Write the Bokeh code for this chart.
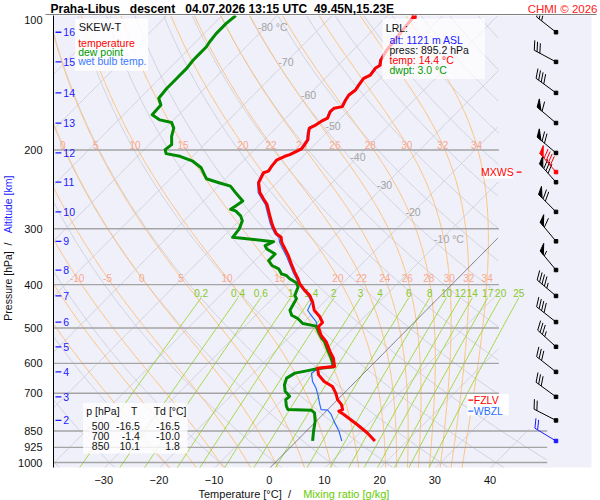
import math
import numpy as np
from bokeh.plotting import figure
from bokeh.layouts import column, row
from bokeh.models import Range1d, FixedTicker, CustomJSTickFormatter, LinearAxis
from bokeh.embed import file_html
from bokeh.resources import INLINE
from bokeh.core.properties import value

# ---------------- sounding data ----------------
temp_p = [895, 857.7, 822, 780.7, 767.5, 761.3, 742, 723.3, 699.3, 675.8, 658.7, 636.6, 615, 612, 609.8,
          584.4, 564.7, 536.5, 518.7, 496.8, 486.1, 471.3, 456.4, 437.2, 422.7, 412, 398.1, 388.1, 375,
          359.4, 344.5, 332.9, 321.7, 313.5, 308.3, 297.9, 290.4, 280.7, 264.5, 257.7, 249, 236.6, 232.6,
          224.8, 222.9, 217.3, 210.7, 206.5, 204.7, 198.8, 194.5, 189.6, 183.2, 178.6, 175.6, 172.6, 169.7,
          164, 161.2, 159.9, 154.5, 150.6, 146.8, 143.1, 138.3, 135.9, 131.3, 129.2, 125.9,
          124.8, 119.6, 114.6, 109.8, 105.2, 100.5]
temp_t = [14.2, 11.3, 8.0, 3.8, 2.3, 2.7, 1.6, 0.0, -1.5, -3.3, -5.7, -7.9, -9.3, -7.9, -6.5,
          -8.2, -10.0, -12.5, -14.6, -16.6, -16.6, -18.2, -20.3, -22.1, -23.8, -25.6, -27.7, -28.9, -30.7,
          -32.8, -34.8, -36.6, -38.4, -39.4, -40.8, -42.6, -43.8, -45.3, -47.9, -49.4, -51.3, -53.3, -53.6,
          -54.2, -53.6, -53.9, -54.1, -53.3, -52.7, -51.6, -51.8, -52.1, -53.2, -53.9, -53.3, -53.0, -52.4,
          -53.1, -53.0, -51.8, -52.4, -52.7, -52.4, -52.7, -53.0, -52.4, -52.7, -52.4, -53.2,
          -53.3, -53.9, -54.2, -54.5, -54.8, -55.0]

dewp_p = [894.9, 850.4, 807.9, 774.3, 763.6, 761.3, 748.2, 723.3, 710.9, 692.9, 669.9, 647.3, 631.0, 623.6, 617.2,
          610.4, 584.4, 563.8, 536.5, 527.5, 509.8, 495.3, 488.5, 476.2, 468.2, 456.4, 429.9, 422.7, 404.9, 396.1,
          388.1, 381.6, 378.3, 368.7, 362.5, 353.3, 341.5, 332.9, 327.3, 320.6, 313.5, 300.5, 288.0, 280.7, 273.6,
          271.3, 266.7, 259.9, 249.0, 240.8, 236.6, 231.8, 219.1, 211.8, 206.5, 203.7, 199.5, 194.5, 186.4, 178.6,
          173.5, 171.2, 166.8, 158.5, 153.1, 145.5, 139.4, 135.9, 131.3, 125.9, 121.7, 117.6, 114.6, 109.8, 104.3,
          100.0]
dewp_t = [2.9, 1.3, -0.2, -1.8, -2.9, -7.2, -8.1, -9.4, -9.3, -11.0, -12.3, -13.1, -12.5, -10.8, -9.4,
          -6.6, -8.6, -10.4, -12.8, -13.9, -15.7, -17.1, -20.0, -21.8, -23.5, -24.7, -25.6, -26.5, -27.4, -28.5,
          -30.4, -31.6, -32.8, -34.2, -36.0, -37.5, -37.5, -39.9, -40.8, -40.0, -48.2, -48.5, -49.4, -50.6, -52.4,
          -53.6, -53.3, -52.9, -55.7, -57.8, -60.5, -63.5, -66.4, -69.1, -72.3, -75.3, -76.2, -75.9, -77.4, -78.5,
          -79.9, -82.5, -84.8, -85.0, -86.6, -86.9, -86.9, -86.9, -86.9, -87.2, -87.2, -87.2, -87.5, -87.8, -87.8,
          -87.5]

wetb_p = [895, 850.4, 807.9, 780.7, 763.6, 761.3, 735.6, 710.9, 681.3, 658.7, 631.0, 620.3, 613.4, 610.9,
          584.4, 564.7, 536.5, 518.7, 496.8, 484.2, 468.2, 456.4, 437.2, 422.7, 412.0, 398.1, 388.1, 375.0,
          359.4, 344.5, 332.9, 321.7, 313.5, 308.3, 297.9, 290.4, 280.7, 264.5, 257.7, 249.0, 236.6, 232.6,
          224.8, 222.9, 217.3, 210.7, 206.5, 204.7, 198.8, 194.5, 189.6, 183.2, 178.6, 175.6, 172.6, 169.7,
          164.0, 161.2, 159.9, 154.5, 150.6, 146.8, 143.1, 138.3, 135.9, 131.3, 129.2, 125.9,
          124.8, 119.6, 114.6, 109.8, 105.2, 100.5]
wetb_t = [8.2, 5.9, 3.2, 1.5, 0.1, -1.2, -2.7, -4.1, -6.0, -7.8, -9.5, -9.2, -8.2, -6.9,
          -8.5, -10.2, -12.8, -14.9, -16.8, -17.9, -20.0, -21.5, -22.3, -24.1, -25.8, -27.9, -29.2, -31.0,
          -33.1, -35.2, -37.0, -38.8, -39.8, -41.1, -42.9, -44.1, -45.6, -48.2, -49.7, -51.6, -53.5, -53.8,
          -54.4, -53.8, -54.0, -54.2, -53.5, -52.9, -51.8, -52.0, -52.3, -53.4, -54.1, -53.5, -53.2, -52.6,
          -53.3, -53.2, -52.0, -52.6, -52.9, -52.6, -52.9, -53.2, -52.6, -52.9, -52.6, -53.4,
          -53.5, -54.1, -54.4, -54.7, -55.0, -55.2]

wind_p = [895, 805, 713, 627, 551, 485, 424, 371, 320, 275, 236, 203, 174, 149, 127, 109]
wind_dir = [301, 297, 306, 308, 312, 308, 310, 320, 320, 315, 318, 310, 310, 306, 298, 308]
wind_kt = [20, 20, 30, 30, 35, 40, 45, 55, 60, 70, 80, 70, 60, 40, 30, 25]
mxws_p, mxws_dir, mxws_kt = 224, 319, 90

alt_km = [2, 3, 4, 5, 6, 7, 8, 9, 10, 11, 12, 13, 14, 15, 16]
alt_p = [805, 713, 627, 551, 485, 424, 371, 320, 275, 236, 203, 174, 149, 127, 109]

lrl_alt, lrl_p, lrl_t, lrl_td = 1121, 895.2, 14.4, 3.0
fzlv_p, wbzl_p = 725, 767
table_p = [500, 700, 850]
table_t = [-16.5, -1.4, 10.1]
table_td = [-16.5, -10.0, 1.8]

p_ticks = [100, 200, 300, 400, 500, 600, 700, 850, 925, 1000]
t_ticks = [-30, -20, -10, 0, 10, 20, 30, 40]
iso_T = list(range(-110, 60, 10))
dry_theta = list(range(-40, 190, 10))
moist_thw = [-20, -15, -10, -5, 0, 5, 10, 15, 20, 22, 24, 26, 28, 30, 32, 34]
moist_row1 = [0, 5, 10, 15, 20, 22, 24, 26, 28, 30, 32, 34]
moist_row2 = [-10, -5, 0, 5, 10, 15, 20, 22, 24, 26, 28, 30, 32, 34]
mix_w = [0.2, 0.4, 0.6, 1, 1.4, 2, 3, 4, 6, 8, 10, 12, 14, 17, 20, 25]
mix_lbl = ["0.2", "0.4", "0.6", "1", "1.4", "2", "3", "4", "6", "8", "10", "12", "14", "17", "20", "25"]
iso_lbl_T = [-80, -70, -60, -50, -40, -30, -20, -10]
iso_lbl_p = [106.3, 127.2, 150.6, 176.6, 206.8, 239.8, 275.4, 316.2]
iso_lbl_txt = ["-80\u00a0°C", "-70", "-60", "-50", "-40", "-30", "-20", "-10\u00a0°C"]

NB = "\u00a0"
title_txt = ("Praha-Libus" + NB * 3 + "descent" + NB * 3 + "04.07.2026" + NB + "13:15" + NB + "UTC" + NB * 2
             + "49.45N,15.23E")
credit_txt = "CHMI" + NB + "©" + NB + "2026"

# ---------------- geometry ----------------
LOG = math.log10
PX = 5.6                 # px per degC
X0 = 270.0               # page x of 0 degC at 1000 hPa
DPX = 450.0              # px per decade of pressure
K = DPX / PX             # skew
YTOP = 2.0
YBOT = 2.0 + 455.0 / DPX
FONT = "Liberation Sans"


def skx(T, pp):
    return T + K * LOG(1000.0 / pp)


def xpg(px):
    return (px - X0) / PX


def yref(py):
    return 2.0 + (py - 15.0) / DPX


X_MAIN = xpg(497)
X_EXT = xpg(546)


def xmax(pp):
    return X_EXT if pp >= 840 else X_MAIN


p = figure(width=585, height=471, x_range=Range1d(xpg(45), xpg(591)), y_range=Range1d(YBOT, YTOP),
           output_backend="svg", toolbar_location=None, x_axis_location=None, title=None,
           min_border_left=30, min_border_right=9, min_border_top=0, min_border_bottom=16)
p.extra_x_ranges = {"tick": Range1d((45 - 264) / PX, (591 - 264) / PX)}
p.background_fill_color = "#f0f0fa"
p.border_fill_color = "white"
p.outline_line_color = None
p.grid.visible = False

p.yaxis.ticker = FixedTicker(ticks=[LOG(v) for v in p_ticks])
p.yaxis.formatter = CustomJSTickFormatter(code="return Math.round(Math.pow(10, tick)).toString();")
p.yaxis.major_tick_line_color = None
p.yaxis.minor_tick_line_color = None
p.yaxis.axis_line_color = "black"
p.yaxis.major_label_standoff = 5
p.yaxis.major_label_text_font = FONT
p.yaxis.major_label_text_font_size = "11px"
p.yaxis.major_label_text_color = "#111111"

xa = LinearAxis(x_range_name="tick", ticker=FixedTicker(ticks=t_ticks))
xa.axis_line_color = None
xa.major_tick_line_color = None
xa.minor_tick_line_color = None
xa.major_label_standoff = 2
xa.major_label_text_font = FONT
xa.major_label_text_font_size = "11px"
xa.major_label_text_color = "#111111"
p.add_layout(xa, "below")

p_grid = np.logspace(LOG(1030.0), 2.0, 420)


def clipped(Ts, ps):
    outx, outy = [], []
    cx, cy = [], []
    for T, pp in zip(Ts, ps):
        X = skx(T, pp)
        if X <= xmax(pp):
            cx.append(X)
            cy.append(LOG(pp))
        else:
            if len(cx) > 1:
                outx.append(cx)
                outy.append(cy)
            cx, cy = [], []
    if len(cx) > 1:
        outx.append(cx)
        outy.append(cy)
    return outx, outy


gx, gy = [], []
zx, zy = [], []
for T in iso_T:
    a, b = clipped([T] * len(p_grid), p_grid)
    if T != 0:
        gx += a
        gy += b
    else:
        zx, zy = a, b
for th in dry_theta:
    Ts = [(th + 273.15) * (pp / 1000.0) ** 0.2857 - 273.15 for pp in p_grid]
    a, b = clipped(Ts, p_grid)
    gx += a
    gy += b
p.multi_line(gx, gy, line_color="#d0d0da", line_width=1)


def moist_curve(thw):
    def f(Tk, pp):
        Tc = Tk - 273.15
        e = 6.112 * math.exp(17.67 * Tc / (Tc + 243.5))
        rs = 0.622 * e / (pp - e)
        return (287.04 * Tk + 2.501e6 * rs) / (1005.7 + 2.501e6 ** 2 * rs * 0.622 / (287.04 * Tk * Tk))

    def rk(Tk, lnp, h):
        k1 = f(Tk, math.exp(lnp))
        k2 = f(Tk + 0.5 * h * k1, math.exp(lnp + 0.5 * h))
        k3 = f(Tk + 0.5 * h * k2, math.exp(lnp + 0.5 * h))
        k4 = f(Tk + h * k3, math.exp(lnp + h))
        return Tk + h * (k1 + 2 * k2 + 2 * k3 + k4) / 6.0

    Tk = thw + 273.15
    lnp = math.log(1000.0)
    h = (math.log(1030.0) - lnp) / 5
    for _ in range(5):
        Tk = rk(Tk, lnp, h)
        lnp += h
    lnps = np.log(p_grid)
    out = [Tk]
    for i in range(1, len(lnps)):
        Tk = rk(Tk, lnps[i - 1], lnps[i] - lnps[i - 1])
        out.append(Tk)
    return np.array(out) - 273.15


mx, my = [], []
moist_T = {}
for th in moist_thw:
    Ts = moist_curve(th)
    moist_T[th] = Ts
    a, b = clipped(Ts, p_grid)
    mx += a
    my += b
p.multi_line(mx, my, line_color="#ffc078", line_width=1)


def mix_T(w, pp):
    e = w * pp / (622.0 + w)
    a = math.log(e / 6.112)
    return 243.5 * a / (17.67 - a)


wx, wy = [], []
mix_top = 428.0
pm = np.logspace(LOG(1030.0), LOG(mix_top), 120)
for w in mix_w:
    wx.append([skx(mix_T(w, pp), pp) for pp in pm])
    wy.append([LOG(pp) for pp in pm])
p.multi_line(wx, wy, line_color="#a2d63c", line_width=1)

p.segment(x0=[xpg(45)] * (len(p_ticks) - 1), x1=[xmax(v) for v in p_ticks[1:]],
          y0=[LOG(v) for v in p_ticks[1:]], y1=[LOG(v) for v in p_ticks[1:]],
          line_color="#a4a4a4", line_width=1.4)
p.multi_line(zx, zy, line_color="#606060", line_width=0.8)

lab = dict(text_font=value(FONT), text_font_size=value("10px"), text_baseline="middle")
r1p, r2p = 194.6, 386.0
Lg = np.log10(p_grid)[::-1]
lx, ly, lt = [], [], []
for rp, rowv in ((r1p, moist_row1), (r2p, moist_row2)):
    for th in rowv:
        Xs = np.array([skx(T, pp) for T, pp in zip(moist_T[th], p_grid)])[::-1]
        lx.append(float(np.interp(LOG(rp), Lg, Xs)))
        ly.append(LOG(rp))
        lt.append(str(th))
p.text(x=lx, y=ly, text=lt, text_color="#f8a890", text_align="center", **lab)

p.text(x=[skx(mix_T(w, mix_top), mix_top) for w in mix_w], y=[LOG(417.0)] * len(mix_w), text=mix_lbl,
       text_color="#86c81e", text_align="center", **lab)

p.text(x=[skx(T, pp) - 7.8 / PX for T, pp in zip(iso_lbl_T, iso_lbl_p)], y=[LOG(v) for v in iso_lbl_p],
       text=iso_lbl_txt, text_color="#a4a4a4", text_align="left",
       text_font=value(FONT), text_font_size=value("10.5px"), text_baseline="middle")

# altitude scale
p.segment(x0=[xpg(47)] * len(alt_p), x1=[xpg(53)] * len(alt_p), y0=[LOG(v) for v in alt_p],
          y1=[LOG(v) for v in alt_p], line_color="#1a1aff", line_width=1.3)
p.text(x=[xpg(55)] * len(alt_p), y=[LOG(v) for v in alt_p], text=[str(k) for k in alt_km],
       text_color="#1a1aff", text_align="left", text_font=value(FONT), text_font_size=value("10.5px"),
       text_baseline="middle")

# profiles
p.line([skx(t, q) for t, q in zip(wetb_t, wetb_p)], [LOG(q) for q in wetb_p], line_color="#2a6cff",
       line_width=1.2, line_join="round")
p.line([skx(t, q) for t, q in zip(dewp_t, dewp_p)], [LOG(q) for q in dewp_p], line_color="#008a00",
       line_width=3, line_join="round")
p.line([skx(t, q) for t, q in zip(temp_t, temp_p)], [LOG(q) for q in temp_p], line_color="#ff0000",
       line_width=3, line_join="round")

# boxes (semi-transparent white)
p.quad(left=[xpg(67), xpg(379), xpg(75)], right=[xpg(141), xpg(483), xpg(181)],
       top=[yref(18), yref(18), yref(405)], bottom=[yref(70.5), yref(79), yref(456)],
       fill_color="white", fill_alpha=[0.85, 0.7, 0.8], line_color=None)
p.scatter([skx(temp_t[-1], temp_p[-1])], [LOG(temp_p[-1])], marker="square", size=4, color="#ff0000")

txt = dict(text_font=value(FONT), text_baseline="middle", text_align="left")
p.text(x=[xpg(70.5)], y=[yref(26.7)], text=["SKEW-T"], text_color="#111111", text_font_size=value("11px"), **txt)
p.text(x=[xpg(70)] * 3, y=[yref(42.3), yref(51.7), yref(61.3)],
       text=["temperature", "dew point", "wet bulb temp."], text_color=["#ff0000", "#009a00", "#3a7aff"],
       text_font_size=value("10.5px"), **txt)
p.text(x=[xpg(382.3), xpg(386), xpg(386), xpg(386), xpg(386)],
       y=[yref(27.3), yref(40), yref(50), yref(60), yref(70)],
       text=["LRL:", f"alt: {lrl_alt} m ASL", f"press: {lrl_p:.1f} hPa", f"temp: {lrl_t:.1f} °C",
             f"dwpt: {lrl_td:.1f} °C"],
       text_color=["#111111", "#1a1aff", "#111111", "#ff0000", "#009a00"],
       text_font_size=value("10.5px"), **txt)
p.text(x=[xpg(78.3), xpg(146.7)], y=[yref(413.3)] * 2, text=["p [hPa]", "Td [°C]"], text_color="#111111",
       text_font_size=value("10.5px"), **txt)
p.text(x=[xpg(127)], y=[yref(413.3)], text=["T"], text_color="#111111", text_font=value(FONT),
       text_font_size=value("10.5px"), text_baseline="middle", text_align="center")
rows_y = [yref(428.3 + 10 * i) for i in range(len(table_p))]
p.text(x=[xpg(101.7)] * 3 + [xpg(132.7)] * 3 + [xpg(173.3)] * 3, y=rows_y * 3,
       text=[str(v) for v in table_p] + [f"{v:.1f}" for v in table_t] + [f"{v:.1f}" for v in table_td],
       text_color="#111111", text_font=value(FONT), text_font_size=value("10.5px"),
       text_baseline="middle", text_align="right")

# level markers
p.quad(left=[xpg(465), xpg(482)], right=[xpg(507), xpg(511)], top=[yref(396), yref(169)],
       bottom=[yref(417.5), yref(179)], fill_color="white", line_color=None)
p.segment(x0=[xpg(466), xpg(466), xpg(515)], x1=[xpg(471), xpg(471), xpg(520)],
          y0=[LOG(fzlv_p), LOG(wbzl_p), LOG(mxws_p)], y1=[LOG(fzlv_p), LOG(wbzl_p), LOG(mxws_p)],
          line_color=["#ff0000", "#2a6cff", "#ff0000"], line_width=1.2)
p.text(x=[xpg(471.5), xpg(471.5)], y=[LOG(fzlv_p), LOG(wbzl_p)], text=["FZLV", "WBZL"],
       text_color=["#ff0000", "#2a6cff"], text_font_size=value("10.5px"), **txt)
p.text(x=[xpg(512)], y=[LOG(mxws_p)], text=["MXWS"], text_color="#ff0000", text_font=value(FONT),
       text_font_size=value("10.5px"), text_baseline="middle", text_align="right")

# wind barbs
BX = xpg(555)
seg = {"x0": [], "y0": [], "x1": [], "y1": [], "c": []}
pen = {"xs": [], "ys": [], "c": []}
dot = {"x": [], "y": [], "c": []}


def add_barb(pp, d, spd, col):
    by = LOG(pp)
    a = math.radians(d)
    ux, uy = math.sin(a), -math.cos(a)
    nx, ny = -uy, ux
    if ny > 0:
        nx, ny = -nx, -ny
    t = math.radians(25)
    vx, vy = nx * math.cos(t) + ux * math.sin(t), ny * math.cos(t) + uy * math.sin(t)

    def D(qx, qy):
        return BX + qx / PX, by + qy / DPX

    L = 25.0
    tx, ty = ux * L, uy * L

    def add_seg(ax, ay, bx, by2):
        (x0, y0), (x1, y1) = D(ax, ay), D(bx, by2)
        seg["x0"].append(x0); seg["y0"].append(y0); seg["x1"].append(x1); seg["y1"].append(y1)
        seg["c"].append(col)

    add_seg(0, 0, tx, ty)
    s = int(round(spd / 5.0))
    n50, s = divmod(s, 10)
    n10, n5 = divmod(s, 2)
    pos = 0.0
    for _ in range(n50):
        ax, ay = tx - ux * pos, ty - uy * pos
        bx, by2 = tx - ux * (pos + 5), ty - uy * (pos + 5)
        cx, cy = ax + vx * 8.5, ay + vy * 8.5
        pts = [D(ax, ay), D(bx, by2), D(cx, cy)]
        pen["xs"].append([q[0] for q in pts]); pen["ys"].append([q[1] for q in pts]); pen["c"].append(col)
        pos += 6.5
    for _ in range(n10):
        ax, ay = tx - ux * pos, ty - uy * pos
        add_seg(ax, ay, ax + vx * 10, ay + vy * 10)
        pos += 3.2
    if n5:
        if pos == 0:
            pos = 3.2
        ax, ay = tx - ux * pos, ty - uy * pos
        add_seg(ax, ay, ax + vx * 5.5, ay + vy * 5.5)
    dot["x"].append(BX); dot["y"].append(by); dot["c"].append(col)


for q, d, s in zip(wind_p, wind_dir, wind_kt):
    add_barb(q, d, s, "#1a1aff" if q == wind_p[0] else "black")
add_barb(mxws_p, mxws_dir, mxws_kt, "#ff0000")
p.segment(x0=seg["x0"], y0=seg["y0"], x1=seg["x1"], y1=seg["y1"], line_color=seg["c"], line_width=1)
p.patches(pen["xs"], pen["ys"], fill_color=pen["c"], line_color=pen["c"], line_width=1)
p.scatter(dot["x"], dot["y"], marker="square", size=3.5, color=dot["c"])


# ---------------- strips for the texts outside the plot area ----------------
def strip(w, h, xr, yr):
    f = figure(width=w, height=h, x_range=xr, y_range=yr, output_backend="svg", toolbar_location=None,
               x_axis_location=None, y_axis_location=None, title=None, min_border=0)
    f.outline_line_color = None
    f.grid.visible = False
    f.background_fill_color = "white"
    f.border_fill_color = "white"
    return f


top = strip(600, 15, Range1d(0, 600), Range1d(15, 0))
top.text(x=[50], y=[8], text=[title_txt], text_color="#000000", text_font=value(FONT),
         text_font_size=value("12px"), text_font_style="bold", text_baseline="middle", text_align="left")
top.text(x=[597], y=[8], text=[credit_txt], text_color="#ff2020", text_font=value(FONT),
         text_font_size=value("11.5px"), text_baseline="middle", text_align="right")
top.segment(x0=[45], x1=[596], y0=[14.5], y1=[14.5], line_color="black", line_width=1.2)

left = strip(15, 471, Range1d(0, 15), Range1d(2.0 + 471.0 / DPX, YTOP))
left.text(x=[7.2, 7.2], y=[yref(333), yref(242)], text=["Pressure [hPa]" + NB * 2 + "/", "Altitude [km]"],
          text_color=["#111111", "#1a1aff"], text_font=value(FONT), text_font_size=value("10.5px"),
          text_baseline="middle", text_align="left", angle=math.pi / 2)

bottom = strip(600, 14, Range1d(0, 600), Range1d(14, 0))
bottom.text(x=[198, 302.7], y=[7.3, 7.3], text=["Temperature [°C]" + NB * 2 + "/", "Mixing ratio [g/kg]"],
            text_color=["#111111", "#66cc00"], text_font=value(FONT), text_font_size=value("11px"),
            text_baseline="middle", text_align="left")

layout = column(top, row(left, p), bottom)
open("out.html", "w").write(file_html(layout, INLINE))
